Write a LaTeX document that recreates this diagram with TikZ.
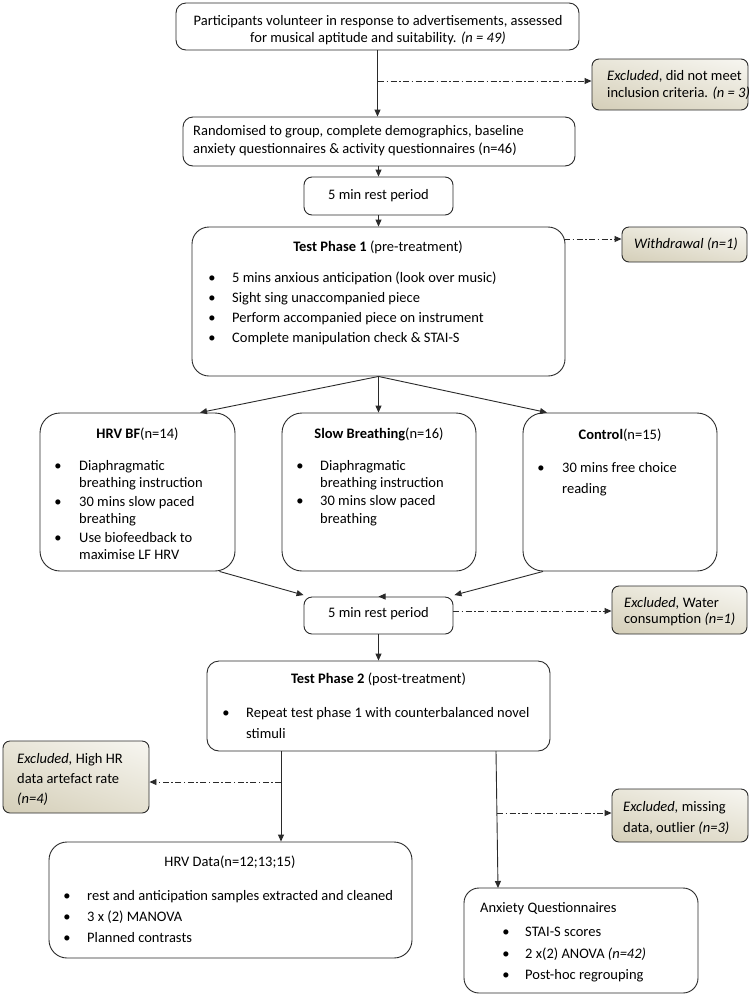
\documentclass[tikz,border=0pt]{standalone}
\usepackage{fontspec}
\setmainfont{Carlito}
\usetikzlibrary{arrows.meta,fit,calc,shadings}
\definecolor{ln}{HTML}{2A2A2A}
\definecolor{exul}{RGB}{233,230,217}
\definecolor{exur}{RGB}{247,246,241}
\definecolor{exll}{RGB}{212,206,184}
\definecolor{exlr}{RGB}{227,223,207}
\tikzset{
  box/.style={draw=ln,line width=0.9pt,inner sep=0pt,fill=white},
  exbox/.style={draw=ln,line width=0.9pt,inner sep=0pt,rounded corners=7pt,
    upper left=exul, upper right=exur, lower left=exll, lower right=exlr},
  arr/.style={draw=ln,line width=0.9pt,-{Triangle[length=7pt,width=6pt]}},
  dd/.style={arr,dash pattern=on 6pt off 2.5pt on 1.5pt off 2.5pt},
  tx/.style={inner sep=0pt,font=\fontsize{14.5}{17}\selectfont,text=black},
}
\newcommand\tl[4]{\node[tx,anchor=base west] (#1) at (#2,#3+5) {#4};}
\newcommand\tc[4]{\node[tx,anchor=base] (#1) at (#2,#3+5) {#4};}
\newcommand\bu[3]{\node[tx,anchor=base] (#1) at (#2,#3+5) {\textbullet};}
\begin{document}
\begin{tikzpicture}[x=1pt,y=-1pt]
\useasboundingbox (0,0) rectangle (751,997);
\fill[white] (0,0) rectangle (751,997);
% boxes
\node[box,rounded corners=10pt,fit={(176,3)(579,50)}] (b1) {};
\node[exbox,fit={(592,59)(748,110)}] (e1) {};
\node[box,rounded corners=10pt,fit={(183,117)(575,166)}] (b2) {};
\node[box,rounded corners=8pt,fit={(304,177)(453,215)}] (r1) {};
\node[box,rounded corners=17pt,fit={(192,227)(565,376)}] (tp1) {};
\node[exbox,fit={(622,227)(747,262)}] (wd) {};
\node[box,rounded corners=20pt,fit={(40,413)(235,571)}] (hrv) {};
\node[box,rounded corners=20pt,fit={(282,413)(476,571)}] (slow) {};
\node[box,rounded corners=20pt,fit={(523,413)(717,571)}] (ctl) {};
\node[box,rounded corners=8pt,fit={(304,597)(453,634)}] (r2) {};
\node[exbox,fit={(612,586)(747,634)}] (ew) {};
\node[box,rounded corners=12pt,fit={(207,661)(550,751)}] (tp2) {};
\node[exbox,fit={(3,741)(149,813)}] (ehr) {};
\node[box,rounded corners=18pt,fit={(49,842)(412,958)}] (hd) {};
\node[exbox,fit={(612,789)(748,842)}] (em) {};
\node[box,rounded corners=15pt,fit={(464,888)(698,993)}] (anx) {};
% connectors
\draw[arr] (b1.south) -- (b1.south |- b2.north);
\coordinate (c1) at (378,81);
\draw[dd] (c1) -- (c1 -| e1.west);
\draw[arr] (r1.north |- b2.south) -- (r1.north);
\draw[arr] (r1.south) -- (r1.south |- tp1.north);
\coordinate (c2) at (564,239);
\draw[dd] (c2) -- (c2 -| wd.west);
\draw[arr] (tp1.south) -- ($(hrv.north)+(62.5,0)$);
\draw[arr] (tp1.south) -- (tp1.south |- slow.north);
\draw[arr] (tp1.south) -- ($(ctl.north)+(-73,0)$);
\draw[arr] ($(hrv.south)+(82,0)$) -- ($(r2.north west)+(0,-1.5)$);
\draw[arr] (r2.north -| slow.south) -- (r2.north);
\draw[arr] ($(ctl.south)+(-77,0)$) -- ($(r2.north east)+(1,-1.5)$);
\coordinate (c3) at (453,611);
\draw[dd] (c3) -- (c3 -| ew.west);
\draw[arr] (r2.south) -- (r2.south |- tp2.north);
\coordinate (c4) at (281,751);
\draw[arr] (c4) -- (c4 |- hd.north);
\coordinate (c5) at (281,782);
\draw[dd] (c5) -- (c5 -| ehr.east);
\coordinate (c6) at (496,751);
\coordinate (c7) at (498,888);
\draw[arr] (c6) -- (c7);
\coordinate (c8) at (497,813);
\draw[dd] (c8) -- (c8 -| em.west);
% texts
\tc{t1a}{378}{20}{Participants volunteer in response to advertisements, assessed}
\tc{t1b}{378}{37}{for musical aptitude and suitability. \textit{(n = 49)}}
\tl{te1a}{607}{75}{\textit{Excluded}, did not meet}
\tl{te1b}{607}{92}{inclusion criteria. \textit{(n = 3)}}
\tl{t2a}{193}{130}{Randomised to group, complete demographics, baseline}
\tl{t2b}{193}{148}{anxiety questionnaires \& activity questionnaires (n=46)}
\tc{tr1}{378.5}{194}{5 min rest period}
\tc{tp1t}{378}{246}{\textbf{Test Phase 1} (pre-treatment)}
\bu{bp1}{212}{277}\tl{p1}{232}{277}{5 mins anxious anticipation (look over music)}
\bu{bp2}{212}{297}\tl{p2}{232}{297}{Sight sing unaccompanied piece}
\bu{bp3}{212}{317}\tl{p3}{232}{317}{Perform accompanied piece on instrument}
\bu{bp4}{212}{337}\tl{p4}{232}{337}{Complete manipulation check \& STAI-S}
\tl{twd}{634}{243}{\textit{Withdrawal (n=1)}}
\tc{thrv}{137.5}{433}{\textbf{HRV BF}(n=14)}
\bu{bh1}{58}{465}\tl{h1a}{79}{465}{Diaphragmatic}
\tl{h1b}{79}{482}{breathing instruction}
\bu{bh2}{58}{501}\tl{h2a}{79}{501}{30 mins slow paced}
\tl{h2b}{79}{518}{breathing}
\bu{bh3}{58}{537}\tl{h3a}{79}{537}{Use biofeedback to}
\tl{h3b}{79}{554}{maximise LF HRV}
\tc{tslow}{379}{433}{\textbf{Slow Breathing}(n=16)}
\bu{bs1}{300}{465}\tl{s1a}{320}{465}{Diaphragmatic}
\tl{s1b}{320}{482}{breathing instruction}
\bu{bs2}{300}{500}\tl{s2a}{320}{500}{30 mins slow paced}
\tl{s2b}{320}{518}{breathing}
\tc{tctl}{620}{434}{\textbf{Control}(n=15)}
\bu{bc1}{541}{467}\tl{c1a}{562}{467}{30 mins free choice}
\tl{c1b}{562}{488}{reading}
\tc{tr2}{378.5}{612}{5 min rest period}
\tl{tewa}{624}{602}{\textit{Excluded,} Water}
\tl{tewb}{624}{618}{consumption \textit{(n=1)}}
\tc{tp2t}{378.5}{678}{\textbf{Test Phase 2} (post-treatment)}
\bu{bq1}{226}{712}\tl{q1a}{246}{712}{Repeat test phase 1 with counterbalanced novel}
\tl{q1b}{246}{733}{stimuli}
\tl{tehra}{17}{758}{\textit{Excluded,} High HR}
\tl{tehrb}{17}{778}{data artefact rate}
\tl{tehrc}{17}{798}{\textit{(n=4)}}
\tc{thd}{230}{861}{HRV Data(n=12;13;15)}
\bu{bd1}{67}{895}\tl{d1}{87}{895}{rest and anticipation samples extracted and cleaned}
\bu{bd2}{67}{916}\tl{d2}{87}{916}{3 x (2) MANOVA}
\bu{bd3}{67}{937}\tl{d3}{87}{937}{Planned contrasts}
\tl{tema}{623}{806}{\textit{Excluded,} missing}
\tl{temb}{623}{827}{data, outlier \textit{(n=3)}}
\tl{tanx}{480}{907}{Anxiety Questionnaires}
\bu{ba1}{506}{931}\tl{a1}{525}{931}{STAI-S scores}
\bu{ba2}{506}{953}\tl{a2}{525}{953}{2 x(2) ANOVA \textit{(n=42)}}
\bu{ba3}{506}{974}\tl{a3}{525}{974}{Post-hoc regrouping}
\end{tikzpicture}
\end{document}
